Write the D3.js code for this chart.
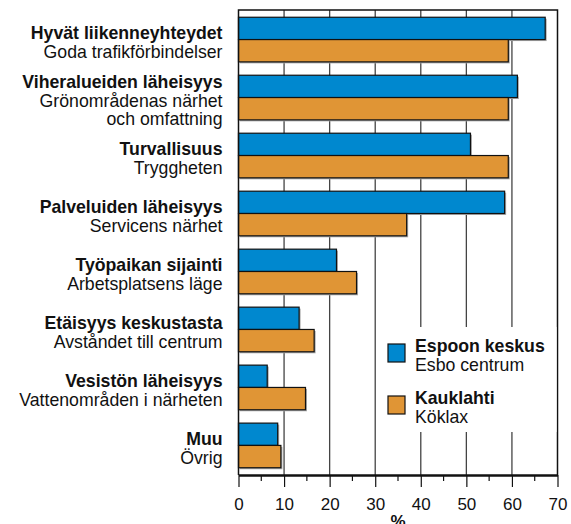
<!DOCTYPE html>
<html>
<head>
<meta charset="utf-8">
<script src="https://cdn.jsdelivr.net/npm/d3@7"></script>
<style>
    body { margin: 0; background: #fff; }
    svg text { font-family: "Liberation Sans", Arial, sans-serif; fill: #111; }
</style>
</head>
<body>
<div id="main"></div>
<script>
const ctx = {
    w: 571,
    h: 524,
    left: 238.5,
    right: 557.5,
    top: 10,
    bottom: 475,
    BLUE: "#0088cf",
    ORANGE: "#e09535",
    fontSize: 17.7,
    axisFontSize: 17,
    lineH: 18.5,
};

// category labels: Finnish (bold) + Swedish lines
const CATEGORIES_FI = ["Hyvät liikenneyhteydet", "Viheralueiden läheisyys", "Turvallisuus",
    "Palveluiden läheisyys", "Työpaikan sijainti", "Etäisyys keskustasta",
    "Vesistön läheisyys", "Muu"];
const CATEGORIES_SV = [["Goda trafikförbindelser"], ["Grönområdenas närhet", "och omfattning"],
    ["Tryggheten"], ["Servicens närhet"], ["Arbetsplatsens läge"], ["Avståndet till centrum"],
    ["Vattenområden i närheten"], ["Övrig"]];

const SERIES_NAMES = ["Espoon keskus", "Kauklahti"];
const SERIES_NAMES_SV = ["Esbo centrum", "Köklax"];
const ESPOON_KESKUS = [67.3, 61.2, 50.9, 58.4, 21.5, 13.3, 6.3, 8.6];
const KAUKLAHTI = [59.2, 59.2, 59.2, 36.9, 25.9, 16.6, 14.7, 9.3];

const X_TICKS = [0, 10, 20, 30, 40, 50, 60, 70];
const X_MINOR = [5, 15, 25, 35, 45, 55, 65];
const X_LABEL = "%";

function createViz() {
    let svgEl = d3.select("#main").append("svg")
        .attr("width", ctx.w)
        .attr("height", ctx.h);

    let x = d3.scaleLinear().domain([0, 70]).range([ctx.left, ctx.right]);
    let y = d3.scaleBand()
        .domain(d3.range(CATEGORIES_FI.length))
        .range([ctx.top, ctx.bottom])
        .paddingInner(0.23)
        .paddingOuter(0.125);
    let ySub = d3.scaleBand().domain([0, 1]).range([0, y.bandwidth()]);

    // vertical grid lines
    svgEl.append("g").selectAll("line")
        .data(X_TICKS.slice(1, -1))
        .enter().append("line")
        .attr("x1", (d) => x(d)).attr("x2", (d) => x(d))
        .attr("y1", ctx.top).attr("y2", ctx.bottom)
        .attr("stroke", "#444").attr("stroke-width", 1.3);

    // bars
    let series = [ESPOON_KESKUS, KAUKLAHTI];
    let colors = [ctx.BLUE, ctx.ORANGE];
    series.forEach(function (vals, s) {
        let g = svgEl.append("g");
        // faint shadow
        g.selectAll("rect.shadow")
            .data(vals).enter().append("rect")
            .attr("x", x(0) + 1.5)
            .attr("y", (d, i) => y(i) + ySub(s) + 1.5)
            .attr("width", (d) => x(d) - x(0))
            .attr("height", ySub.bandwidth())
            .attr("fill", "#aaa");
        g.selectAll("rect.bar")
            .data(vals).enter().append("rect")
            .attr("x", x(0))
            .attr("y", (d, i) => y(i) + ySub(s))
            .attr("width", (d) => x(d) - x(0))
            .attr("height", ySub.bandwidth())
            .attr("fill", colors[s])
            .attr("stroke", "#111")
            .attr("stroke-width", 1.2);
    });

    // frame (left, top, right)
    svgEl.append("path")
        .attr("d", `M${ctx.left},${ctx.bottom}V${ctx.top}H${ctx.right}V${ctx.bottom}`)
        .attr("fill", "none").attr("stroke", "#111").attr("stroke-width", 1.5);

    // x axis
    let axisG = svgEl.append("g").attr("transform", `translate(0,${ctx.bottom})`);
    axisG.call(d3.axisBottom(x).tickValues(X_TICKS).tickSize(12).tickPadding(11).tickSizeOuter(0));
    axisG.select(".domain").attr("stroke", "#111").attr("stroke-width", 2.5);
    axisG.selectAll(".tick line").attr("stroke", "#111").attr("stroke-width", 1.2);
    axisG.selectAll(".tick text")
        .style("font-family", "Liberation Sans, Arial, sans-serif")
        .style("font-size", ctx.axisFontSize + "px").attr("fill", "#111");
    axisG.selectAll("line.minor")
        .data(X_MINOR).enter().append("line")
        .attr("x1", (d) => x(d)).attr("x2", (d) => x(d))
        .attr("y1", 0).attr("y2", 6)
        .attr("stroke", "#111").attr("stroke-width", 1.2);
    svgEl.append("text")
        .attr("x", (ctx.left + ctx.right) / 2)
        .attr("y", 527)
        .attr("text-anchor", "middle")
        .style("font-size", ctx.axisFontSize + "px")
        .style("font-weight", "bold")
        .text(X_LABEL);

    // category labels
    CATEGORIES_FI.forEach(function (fi, i) {
        let lines = [{ t: fi, b: true }].concat(CATEGORIES_SV[i].map((t) => ({ t: t, b: false })));
        let center = y(i) + y.bandwidth() / 2;
        let t = svgEl.append("text")
            .attr("text-anchor", "end")
            .style("font-size", ctx.fontSize + "px");
        lines.forEach(function (l, j) {
            t.append("tspan")
                .attr("x", 222.5)
                .attr("y", center + (j - (lines.length - 1) / 2) * ctx.lineH + 9)
                .style("font-weight", l.b ? "bold" : "normal")
                .text(l.t);
        });
    });

    // legend
    let legendG = svgEl.append("g");
    legendG.append("rect")
        .attr("x", 379).attr("y", 327)
        .attr("width", ctx.right - 380).attr("height", 105)
        .attr("fill", "#fff");
    SERIES_NAMES.forEach(function (name, s) {
        let top = 344 + s * 52;
        legendG.append("rect")
            .attr("x", 388).attr("y", top)
            .attr("width", 17).attr("height", 18)
            .attr("fill", colors[s]).attr("stroke", "#111").attr("stroke-width", 1.2);
        legendG.append("text")
            .attr("x", 415).attr("y", top + 8)
            .style("font-size", ctx.fontSize + "px").style("font-weight", "bold")
            .text(name);
        legendG.append("text")
            .attr("x", 415).attr("y", top + 26.5)
            .style("font-size", ctx.fontSize + "px")
            .text(SERIES_NAMES_SV[s]);
    });
}

createViz();
</script>
</body>
</html>
